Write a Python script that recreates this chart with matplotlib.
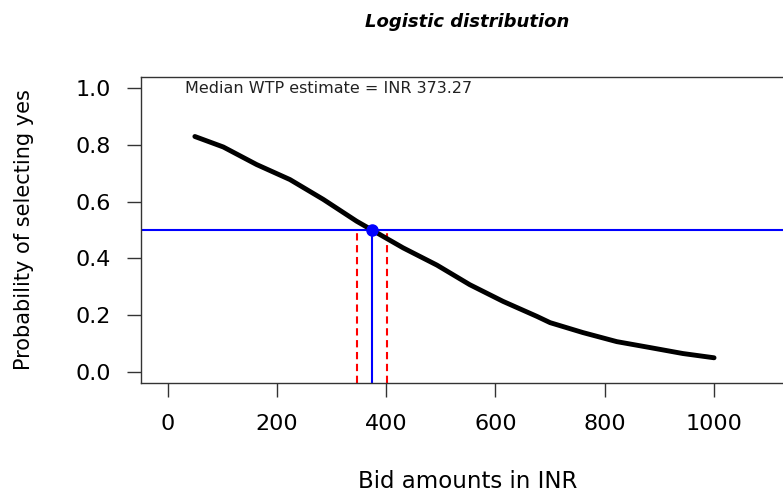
import matplotlib
matplotlib.use('Agg')
import matplotlib.pyplot as plt

# values
bid = [50, 102, 163, 224, 285, 346, 431, 493, 553, 614, 676, 700, 760, 822, 883, 943, 1000]
prob_yes = [0.830, 0.793, 0.731, 0.678, 0.608, 0.531, 0.437, 0.376, 0.307, 0.248,
            0.195, 0.173, 0.138, 0.106, 0.085, 0.064, 0.049]
median_wtp = 373.27
ci_low = 347
ci_high = 401
x_ticks = [0, 200, 400, 600, 800, 1000]
y_ticks = [0.0, 0.2, 0.4, 0.6, 0.8, 1.0]

plt.rcParams['font.family'] = ['DejaVu Sans']

W, H = 783, 493
fig = plt.figure(figsize=(W / 100, H / 100), dpi=100)

# plot box: left 141 px, bottom 383 px, top 77 px, right runs past the image edge
ax = fig.add_axes([141.3 / W, (H - 383) / H, 708.3 / W, 306 / H])
ax.set_xlim(-48, 1248)
ax.set_ylim(-0.04, 1.04)

ax.plot(bid, prob_yes, color='black', lw=3.5, solid_capstyle='round',
        solid_joinstyle='round', zorder=3)

ax.axhline(0.5, color='#0000FF', lw=1.5, zorder=2)
ax.vlines(median_wtp, -0.04, 0.5, color='#0000FF', lw=1.5, zorder=2)
ax.vlines([ci_low, ci_high], -0.04, 0.5, color='#FF0000', lw=1.5,
          linestyles=[(0, (3.5, 2.2))], zorder=2)
ax.plot([median_wtp], [0.5], 'o', color='#0000FF', markersize=8, zorder=4)

ax.text(32, 0.982, 'Median WTP estimate = INR 373.27', fontsize=11.5,
        color='#222222', ha='left', va='baseline')

ax.set_xticks(x_ticks)
ax.set_xticklabels([str(t) for t in x_ticks])
ax.set_yticks(y_ticks)
ax.set_yticklabels(['%.1f' % t for t in y_ticks])
ax.tick_params(axis='both', direction='out', length=10, width=1, colors='#333333',
               labelsize=16, labelcolor='black')
ax.tick_params(axis='x', pad=12)
ax.tick_params(axis='y', pad=12)
for s in ax.spines.values():
    s.set_color('#333333')
    s.set_linewidth(1)

fig.text(467.5 / W, 1 - 27 / H, 'Logistic distribution', fontsize=13,
         fontweight='bold', fontstyle='italic', ha='center', va='baseline')
fig.text(467.5 / W, 1 - 488 / H, 'Bid amounts in INR', fontsize=16.5,
         ha='center', va='baseline')
fig.text(24 / W, 1 - 230 / H, 'Probability of selecting yes', fontsize=15,
         rotation=90, ha='center', va='center')

fig.savefig('out.png', dpi=100)
